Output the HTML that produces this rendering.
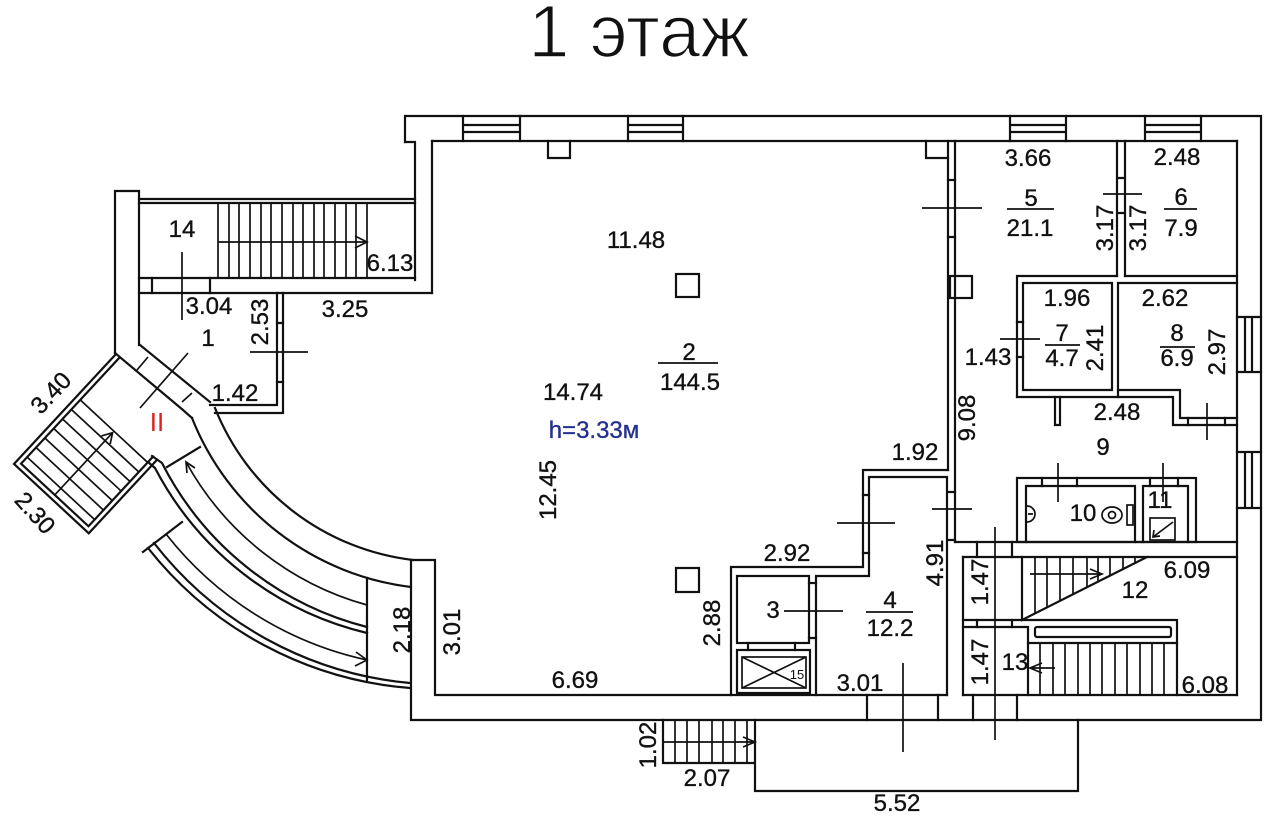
<!DOCTYPE html>
<html><head><meta charset="utf-8"><style>
html,body{margin:0;padding:0;background:#fff;}
svg{display:block;}
.w{stroke:#111;stroke-width:2.2;fill:none;stroke-linecap:square;}
.t{stroke:#111;stroke-width:1.7;fill:none;}
text{font-family:"Liberation Sans",Arial,sans-serif;fill:#111;}
.n{font-size:24px;text-anchor:middle;stroke:#111;stroke-width:0.35;}
</style></head><body>
<svg width="1280" height="828" viewBox="0 0 1280 828" xmlns="http://www.w3.org/2000/svg">
<rect width="1280" height="828" fill="#fff"/>
<text x="639" y="57" font-size="74" text-anchor="middle" stroke="#fff" stroke-width="1.6" style="font-family:'Liberation Sans','DejaVu Sans',sans-serif;">1 этаж</text>

<!-- outer building walls -->
<path class="w" d="M405 142 L405 116 L1261 116 L1261 720 L411 720 L411 560 L435 560 L435 695 L947 695"/>
<path class="w" d="M405 142 L415 142 L415 280"/>
<line class="w" x1="432" y1="141" x2="1237" y2="141"/>
<line class="w" x1="432" y1="141" x2="432" y2="293"/>
<line class="w" x1="1237" y1="141" x2="1237" y2="695"/>
<line class="w" x1="963" y1="695" x2="1237" y2="695"/>
<!-- windows -->
<g class="w">
<path d="M463 116V141M520 116V141M463 125H520M463 132H520"/>
<path d="M628 116V141M683 116V141M628 125H683M628 132H683"/>
<path d="M1010 116V141M1066 116V141M1010 125H1066M1010 132H1066"/>
<path d="M1145 116V141M1201 116V141M1145 125H1201M1145 132H1201"/>
<path d="M1237 317H1261M1237 372H1261M1245 317V372M1252 317V372"/>
<path d="M1237 452H1261M1237 508H1261M1245 452V508M1252 452V508"/>
</g>
<!-- columns -->
<g class="w">
<path d="M548 141V158H570V141"/>
<path d="M926 141V158H948"/>
<rect x="676" y="274" width="23" height="23"/>
<rect x="676" y="568" width="23" height="24"/>
<rect x="950" y="276" width="22" height="22"/>
</g>

<!-- stair 14 and room 1 -->
<g class="w">
<path d="M115 353 L115 191 L139 191 L139 345"/>
<line x1="139" y1="199" x2="415" y2="199"/>
<line x1="139" y1="203" x2="415" y2="203"/>
<line x1="139" y1="278" x2="415" y2="278"/>
<line x1="139" y1="293" x2="432" y2="293"/>
<path d="M152 278V293M210 278V293"/>
<path d="M277 293V405H210M283 293V413H215"/>
<path d="M277 323H283M277 382H283"/>
<path d="M140 345 L210 402"/>
<path d="M115 353 L183 410 L192 418"/>
</g>
<g class="t">
<path d="M218 203V278M229 203V278M239 203V278M250 203V278M261 203V278M271 203V278M282 203V278M293 203V278M303 203V278M314 203V278M324 203V278M335 203V278M346 203V278M356 203V278M367 203V278"/>
<path d="M218 242H367M355 236L367 242L355 248"/>
<path d="M182 252V320"/>
<path d="M250 352H308"/>
<path d="M188 353L140 408"/>
<path d="M137 370L148 357M182 402L192 393"/>
</g>

<!-- rotated left stair -->
<g transform="matrix(-0.68,0.733,0.733,0.68,116,354)">
<path class="w" d="M0 0H150V102H50"/>
<path class="w" d="M0 5H145V97H50"/>
<path class="t" d="M58 5V97M71 5V97M84 5V97M97 5V97M110 5V97M123 5V97M136 5V97"/>
<path class="t" d="M145 51H60M70 45L60 51L70 57"/>
</g>
<text x="157" y="431" font-size="26" text-anchor="middle" style="fill:#e02020">II</text>

<!-- curved ramps -->
<g class="w">
<path d="M215 408 A244 244 0 0 0 413 560"/>
<path d="M192 418 A271 271 0 0 0 411 587"/>
<path d="M200 447 L167 467"/>
<path d="M152 456 L162 463 A318 318 0 0 0 367 627"/>
<path d="M148 462 L155 468 A324 324 0 0 0 367 633"/>
<path d="M182 522 L143 552"/>
<path d="M154 543 A366 366 0 0 0 410 683"/>
<path d="M148 548 A371 371 0 0 0 410 688"/>
<path d="M367 578 V681"/>
</g>
<g class="t">
<path d="M186 462 A297 297 0 0 0 367 605"/>
<path d="M195 468L186 462L187 473"/>
<path d="M166 534 A350 350 0 0 0 367 660"/>
<path d="M356 652L367 660L355 666"/>
</g>

<!-- hall right wall / rooms 5-8 -->
<g class="w">
<line x1="948" y1="141" x2="948" y2="470"/>
<line x1="955" y1="141" x2="955" y2="542"/>
<path d="M948 180H955M948 237H955"/>
<path d="M1117 141V276M1125 141V276M1117 178H1125M1117 213H1125"/>
<path d="M1017 397V276H1117M1125 276H1237"/>
<path d="M1023 390V283H1112V390H1023"/>
<path d="M1118 397V283H1237"/>
<path d="M1017 322H1023M1017 357H1023"/>
<path d="M1017 397H1173V425H1237"/>
<path d="M1118 390H1180V418H1237"/>
<path d="M1188 418V425M1225 418V425"/>
<path d="M1055 397V425H1060V397"/>
</g>
<g class="t">
<path d="M922 208H982"/>
<path d="M1103 194H1142"/>
<path d="M1000 339H1040"/>
<path d="M1207 403V440"/>
</g>

<!-- rooms 10, 11 -->
<g class="w">
<rect x="1017" y="478" width="179" height="64"/>
<path d="M1026 542V486H1135V542M1143 542V486H1188V542"/>
<path d="M1042 478V486M1077 478V486M1150 478V486M1178 478V486"/>
<line x1="955" y1="542" x2="1237" y2="542"/>
<line x1="963" y1="557" x2="1237" y2="557"/>
<line x1="963" y1="557" x2="963" y2="695"/>
<path d="M977 542V557M1012 542V557"/>
</g>
<g class="t">
<path d="M1058 463V502M1163 463V502"/>
<path d="M1027 506 A8 8 0 0 1 1027 522M1028 514H1033"/>
<ellipse cx="1112" cy="515" rx="10" ry="8"/>
<circle cx="1112" cy="515" r="3.5"/>
<rect x="1127" y="505" width="6" height="20"/>
<rect x="1150" y="518" width="25" height="22"/>
<path d="M1173 522L1153 537M1154 530L1153 537L1160 536"/>
</g>

<!-- stairs 12 / 13 -->
<g class="w">
<path d="M963 620H1177V695"/>
<path d="M963 627H1028V695"/>
<path d="M977 620V627M1012 620V627"/>
<rect x="1035" y="627" width="136" height="10" rx="2"/>
<path d="M1028 643H1177"/>
<path d="M1022 557V620L1147 557"/>
<path d="M973 695V720M1017 695V720"/>
</g>
<g class="t">
<path d="M1035 557V613M1047 557V607M1060 557V601M1073 557V594M1087 557V587M1098 557V582M1110 557V576M1123 557V569M1135 557V563"/>
<path d="M1030 574H1102M1090 569L1102 574L1090 579"/>
<path d="M1040 643V695M1053 643V695M1065 643V695M1078 643V695M1090 643V695M1102 643V695M1115 643V695M1127 643V695M1140 643V695M1152 643V695M1164 643V695"/>
<path d="M1030 668H1055M1042 663L1030 668L1042 673"/>
<path d="M995 527V740"/>
</g>

<!-- room 4, room 3, lift -->
<g class="w">
<path d="M731 695V567H863V470H948"/>
<path d="M816 695V576H869V477H947V695"/>
<path d="M863 495H869M863 553H869"/>
<path d="M948 492H955M948 540H955"/>
<rect x="737" y="576" width="72" height="67"/>
<path d="M809 583H816M809 638H816"/>
<rect x="737" y="650" width="73" height="43"/>
<path d="M748 643V650M795 643V650"/>
<path d="M867 695V720M938 695V720"/>
</g>
<g class="t">
<rect x="742" y="657" width="64" height="31"/>
<path d="M742 657L806 688M806 657L742 688"/>
<path d="M837 523H895"/>
<path d="M932 509H972"/>
<path d="M784 611H843"/>
<path d="M903 663V752"/>
<path d="M866 612H913"/>
</g>
<text x="797" y="679" font-size="13" text-anchor="middle">15</text>

<!-- porch -->
<g class="w">
<path d="M663 720V763H755M755 720V791H1078V720"/>
</g>
<g class="t">
<path d="M675 720V763M687 720V763M699 720V763M712 720V763M723 720V763M735 720V763M747 720V763"/>
<path d="M663 742H755M743 737L755 742L743 747"/>
</g>

<!-- fraction lines -->
<g class="t">
<path d="M658 363H718"/>
<path d="M1007 209H1054"/>
<path d="M1164 209H1197"/>
<path d="M1045 345H1080"/>
<path d="M1160 347H1195"/>
</g>

<!-- labels -->
<g class="n">
<text x="182" y="237">14</text>
<text x="390" y="271">6.13</text>
<text x="209" y="314">3.04</text>
<text x="345" y="317">3.25</text>
<text x="208" y="346">1</text>
<text x="235" y="401">1.42</text>
<text x="636" y="248">11.48</text>
<text x="689" y="360">2</text>
<text x="690" y="390">144.5</text>
<text x="573" y="400">14.74</text>
<text x="594" y="438" style="fill:#22308f;stroke:#22308f">h=3.33м</text>
<text x="915" y="460">1.92</text>
<text x="1028" y="166">3.66</text>
<text x="1031" y="206">5</text>
<text x="1030" y="236">21.1</text>
<text x="1177" y="165">2.48</text>
<text x="1181" y="205">6</text>
<text x="1181" y="236">7.9</text>
<text x="1067" y="306">1.96</text>
<text x="1062" y="341">7</text>
<text x="1062" y="366">4.7</text>
<text x="1165" y="306">2.62</text>
<text x="1177" y="341">8</text>
<text x="1177" y="366">6.9</text>
<text x="988" y="365">1.43</text>
<text x="1117" y="420">2.48</text>
<text x="1103" y="455">9</text>
<text x="1083" y="521">10</text>
<text x="1160" y="508">11</text>
<text x="1187" y="578">6.09</text>
<text x="1135" y="598">12</text>
<text x="1015" y="670">13</text>
<text x="1205" y="693">6.08</text>
<text x="890" y="608">4</text>
<text x="890" y="636">12.2</text>
<text x="773" y="618">3</text>
<text x="787" y="561">2.92</text>
<text x="860" y="691">3.01</text>
<text x="575" y="688">6.69</text>
<text x="707" y="786">2.07</text>
<text x="897" y="811">5.52</text>
</g>
<g class="n">
<text transform="translate(260,322) rotate(-90)" dy="8">2.53</text>
<text transform="translate(1105,228) rotate(-90)" dy="8">3.17</text>
<text transform="translate(1138,228) rotate(-90)" dy="8">3.17</text>
<text transform="translate(1095,348) rotate(-90)" dy="8">2.41</text>
<text transform="translate(1217,352) rotate(-90)" dy="8">2.97</text>
<text transform="translate(967,418) rotate(-90)" dy="8">9.08</text>
<text transform="translate(980,582) rotate(-90)" dy="8">1.47</text>
<text transform="translate(980,662) rotate(-90)" dy="8">1.47</text>
<text transform="translate(935,563) rotate(-90)" dy="8">4.91</text>
<text transform="translate(712,623) rotate(-90)" dy="8">2.88</text>
<text transform="translate(548,490) rotate(-90)" dy="8">12.45</text>
<text transform="translate(452,632) rotate(-90)" dy="8">3.01</text>
<text transform="translate(402,630) rotate(-90)" dy="8">2.18</text>
<text transform="translate(648,745) rotate(-90)" dy="8">1.02</text>
<text transform="translate(51,393) rotate(-47)" dy="8">3.40</text>
<text transform="translate(35,513) rotate(48)" dy="8">2.30</text>
</g>
</svg>
</body></html>
